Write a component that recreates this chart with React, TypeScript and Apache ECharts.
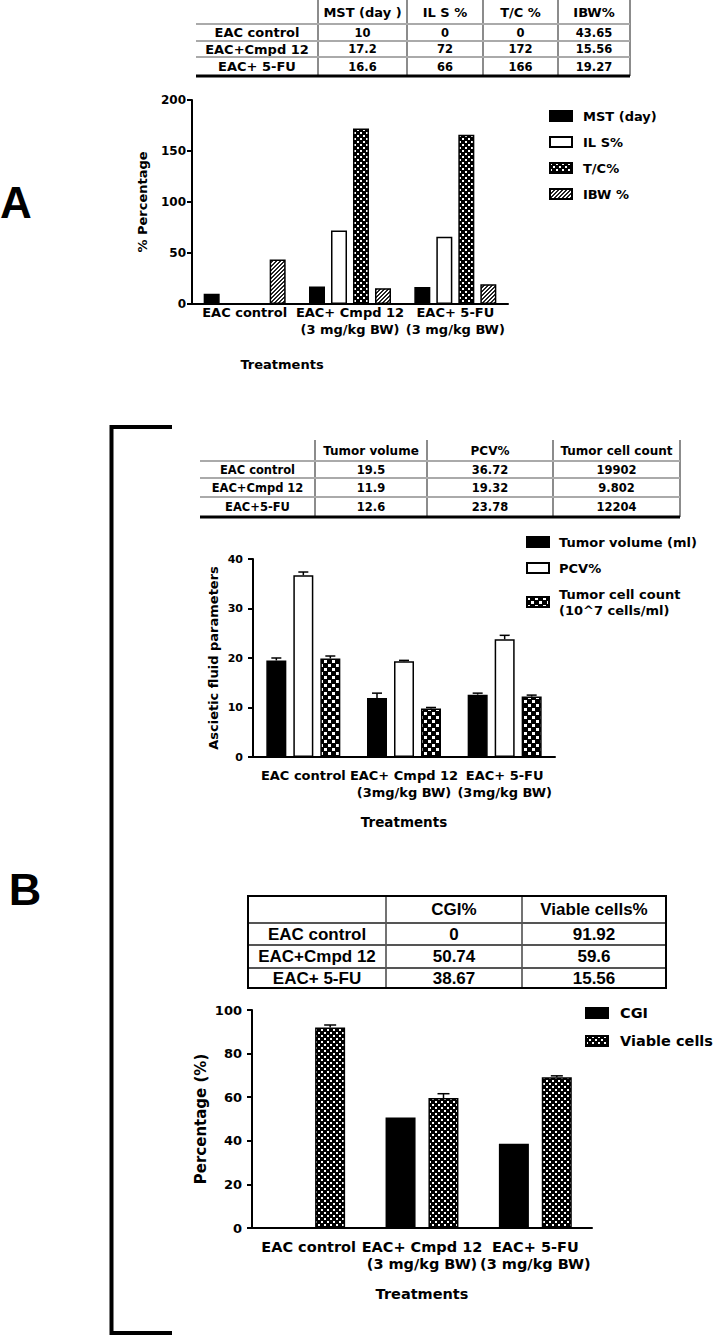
import React, { useEffect, useRef } from 'react';
import * as echarts from 'echarts';

// ---------- DATA ----------
const groupsA = ['EAC control', 'EAC+ Cmpd 12\n(3 mg/kg BW)', 'EAC+ 5-FU\n(3 mg/kg BW)'];
const mstDay = [10, 17.2, 16.6];
const ilsPct = [0, 72, 66];
const tcPct = [0, 172, 166];
const ibwPct = [43.65, 15.56, 19.27];

const groupsB1 = ['EAC control', 'EAC+ Cmpd 12\n(3mg/kg BW)', 'EAC+ 5-FU\n(3mg/kg BW)'];
const tumorVolume = [19.5, 11.9, 12.6];
const tumorVolumeErr = [0.5, 1.0, 0.3];
const pcvPct = [36.72, 19.32, 23.78];
const pcvErr = [0.65, 0.2, 0.8];
const cellCount = [19.902, 9.802, 12.204];
const cellCountErr = [0.5, 0.2, 0.3];

const groupsB2 = ['EAC control', 'EAC+ Cmpd 12\n(3 mg/kg BW)', 'EAC+ 5-FU\n(3 mg/kg BW)'];
const cgiPct = [0, 50.74, 38.67];
const viablePct = [91.92, 59.6, 69.2];
const viableErr = [1.2, 2.0, 0.6];

const tableRowLabels = ['EAC control', 'EAC+Cmpd 12', 'EAC+ 5-FU'];
const tableAHeader = ['MST (day )', 'IL S %', 'T/C %', 'IBW%'];
const tableAMst = ['10', '17.2', '16.6'];
const tableAIls = ['0', '72', '66'];
const tableATc = ['0', '172', '166'];
const tableAIbw = ['43.65', '15.56', '19.27'];

const tableB1Header = ['Tumor volume', 'PCV%', 'Tumor cell count'];
const tableB1Labels = ['EAC control', 'EAC+Cmpd 12', 'EAC+5-FU'];
const tableB1Vol = ['19.5', '11.9', '12.6'];
const tableB1Pcv = ['36.72', '19.32', '23.78'];
const tableB1Cells = ['19902', '9.802', '12204'];

const tableB2Header = ['CGI%', 'Viable cells%'];
const tableB2Cgi = ['0', '50.74', '38.67'];
const tableB2Viable = ['91.92', '59.6', '15.56'];

// ---------- STYLE ----------
const W = 717;
const H = 1338;
const DJ = 'DejaVu Sans';
const LIB = 'Liberation Sans';

function makePattern(size: number, draw: (ctx: CanvasRenderingContext2D) => void) {
  const c = document.createElement('canvas');
  c.width = size;
  c.height = size;
  const ctx = c.getContext('2d')!;
  draw(ctx);
  return { image: c, repeat: 'repeat' } as any;
}

function checker(size: number, sq: number, a: number, b: number) {
  return makePattern(size, (ctx) => {
    ctx.fillStyle = '#000';
    ctx.fillRect(0, 0, size, size);
    ctx.fillStyle = '#fff';
    ctx.fillRect(a, a, sq, sq);
    ctx.fillRect(b, b, sq, sq);
  });
}

function hatch() {
  return makePattern(4, (ctx) => {
    ctx.fillStyle = '#fff';
    ctx.fillRect(0, 0, 4, 4);
    ctx.fillStyle = '#222';
    for (let x = 0; x < 4; x++) {
      for (let y = 0; y < 4; y++) {
        if ((x + y) % 4 === 0 || (x + y) % 4 === 1) ctx.fillRect(x, y, 1, 1);
      }
    }
  });
}

function txt(text: string, x: number, y: number, font: string, align = 'center') {
  return {
    type: 'text',
    x,
    y,
    silent: true,
    style: { text, font, fill: '#000', align, verticalAlign: 'middle', textAlign: align, textVerticalAlign: 'middle' },
  };
}

function ln(x1: number, y1: number, x2: number, y2: number, stroke: string, lineWidth: number) {
  return { type: 'line', silent: true, shape: { x1, y1, x2, y2 }, style: { stroke, lineWidth } };
}

function buildTable(
  colX: number[],
  rowY: number[],
  header: string[],
  labels: string[],
  cols: string[][],
  fHead: string,
  fLabel: string,
  fVal: string,
  vColor: string,
  hColor: string,
  vLines: number[],
  topV: number,
) {
  const els: any[] = [];
  const cy = (r: number) => (rowY[r] + rowY[r + 1]) / 2;
  const cx = (c: number) => (colX[c] + colX[c + 1]) / 2;
  header.forEach((h, i) => els.push(txt(h, cx(i + 1), cy(0), fHead)));
  labels.forEach((l, r) => els.push(txt(l, cx(0), cy(r + 1), fLabel)));
  cols.forEach((col, c) => col.forEach((v, r) => els.push(txt(v, cx(c + 1), cy(r + 1), fVal))));
  vLines.forEach((x) => els.push(ln(x, topV, x, rowY[rowY.length - 1], vColor, 1.5)));
  for (let r = 1; r < rowY.length - 1; r++) els.push(ln(colX[0], rowY[r], colX[colX.length - 1], rowY[r], hColor, 2));
  return els;
}

function errorSeries(xi: number, means: number[], errs: number[], offset: number, cap: number) {
  return {
    type: 'custom',
    xAxisIndex: xi,
    yAxisIndex: xi,
    silent: true,
    z: 5,
    data: means.map((m, i) => [i, m, m + errs[i]]),
    encode: { x: 0, y: [1, 2] },
    renderItem: (params: any, api: any) => {
      const i = api.value(0);
      const base = api.coord([i, api.value(1)]);
      const top = api.coord([i, api.value(2)]);
      const x = base[0] + offset;
      return {
        type: 'group',
        children: [
          { type: 'line', shape: { x1: x, y1: base[1], x2: x, y2: top[1] }, style: { stroke: '#000', lineWidth: 1.5 } },
          { type: 'line', shape: { x1: x - cap, y1: top[1], x2: x + cap, y2: top[1] }, style: { stroke: '#000', lineWidth: 1.5 } },
        ],
      };
    },
  };
}

function xAxisCfg(gi: number, data: string[], fs: number, margin: number, lh: number, nameGap: number, nfs: number, shift = 0) {
  return {
    type: 'category',
    gridIndex: gi,
    data,
    axisLine: { lineStyle: { color: '#000', width: 2 } },
    axisTick: { alignWithLabel: true, length: 5, lineStyle: { color: '#000', width: 2 } },
    axisLabel: { interval: 0, color: '#000', fontFamily: DJ, fontWeight: 'bold', fontSize: fs, margin, lineHeight: lh },
    name: 'Treatments',
    nameLocation: 'middle',
    nameGap,
    nameTextStyle: {
      color: '#000',
      fontFamily: DJ,
      fontWeight: 'bold',
      fontSize: nfs,
      padding: shift > 0 ? [0, shift * 2, 0, 0] : 0,
    },
  };
}

function yAxisCfg(gi: number, max: number, interval: number, fs: number, margin: number, name: string, nameGap: number, nfs: number) {
  return {
    type: 'value',
    gridIndex: gi,
    min: 0,
    max,
    interval,
    splitLine: { show: false },
    axisLine: { show: true, lineStyle: { color: '#000', width: 2 } },
    axisTick: { show: true, length: 5, lineStyle: { color: '#000', width: 2 } },
    axisLabel: { color: '#000', fontFamily: DJ, fontWeight: 'bold', fontSize: fs, margin },
    name,
    nameLocation: 'middle',
    nameRotate: 90,
    nameGap,
    nameTextStyle: { color: '#000', fontFamily: DJ, fontWeight: 'bold', fontSize: nfs },
  };
}

function legendCfg(data: string[], left: number, top: number, fs: number, gap: number, lh: number, pad: number) {
  return {
    data,
    orient: 'vertical',
    left,
    top,
    padding: 0,
    itemWidth: 22,
    itemHeight: 10,
    itemGap: gap,
    icon: 'rect',
    selectedMode: false,
    textStyle: { color: '#000', fontFamily: DJ, fontWeight: 'bold', fontSize: fs, lineHeight: lh, padding: [0, 0, 0, pad] },
  };
}

export default function App() {
  const ref = useRef<HTMLDivElement>(null);

  useEffect(() => {
    const chart = echarts.init(ref.current!, null, { renderer: 'svg', width: W, height: H });

    const black = { color: '#000', borderColor: '#000', borderWidth: 1.5 };
    const white = { color: '#fff', borderColor: '#000', borderWidth: 1.5 };
    const tcFill = { color: checker(6, 2, 0, 3), borderColor: '#000', borderWidth: 1.5 };
    const ibwFill = { color: hatch(), borderColor: '#000', borderWidth: 1.5 };
    const cellFill = { color: checker(8, 3, 0, 4), borderColor: '#000', borderWidth: 1.5 };
    const viableFill = { color: checker(6, 2, 0, 3), borderColor: '#000', borderWidth: 1.5 };

    const barA = (name: string, data: number[], itemStyle: any) => ({
      type: 'bar', name, data, xAxisIndex: 0, yAxisIndex: 0, barWidth: 16, barGap: '37.5%', itemStyle,
    });
    const barB1 = (name: string, data: number[], itemStyle: any) => ({
      type: 'bar', name, data, xAxisIndex: 1, yAxisIndex: 1, barWidth: 20, barGap: '35%', itemStyle,
    });
    const barB2 = (name: string, data: number[], itemStyle: any) => ({
      type: 'bar', name, data, xAxisIndex: 2, yAxisIndex: 2, barWidth: 30, barGap: '43%', itemStyle,
    });

    const cellName = 'Tumor cell count\n(10^7 cells/ml)';

    const graphics: any[] = [];
    // Table A
    graphics.push(
      ...buildTable(
        [196, 318, 407, 483, 558, 630],
        [0, 24, 41, 57, 76],
        tableAHeader,
        tableRowLabels,
        [tableAMst, tableAIls, tableATc, tableAIbw],
        `bold 13px "${DJ}"`,
        `bold 13px "${DJ}"`,
        `bold 11.5px "${DJ}"`,
        '#666',
        '#aaa',
        [318, 407, 483, 558, 630],
        0,
      ),
    );
    graphics.push(ln(196, 76, 630, 76, '#000', 3));
    // Table B1
    graphics.push(
      ...buildTable(
        [200, 315, 427, 553, 680],
        [440, 461, 478, 497, 517],
        tableB1Header,
        tableB1Labels,
        [tableB1Vol, tableB1Pcv, tableB1Cells],
        `bold 12px "${DJ}"`,
        `bold 11.5px "${DJ}"`,
        `bold 11.5px "${DJ}"`,
        '#666',
        '#aaa',
        [315, 427, 553, 680],
        440,
      ),
    );
    graphics.push(ln(200, 517, 680, 517, '#000', 3));
    // Table B2
    graphics.push(
      ...buildTable(
        [248, 386, 522, 666],
        [896, 923, 945, 968, 988],
        tableB2Header,
        tableRowLabels,
        [tableB2Cgi, tableB2Viable],
        `bold 17px "${LIB}"`,
        `bold 17px "${LIB}"`,
        `bold 17px "${LIB}"`,
        '#444',
        '#555',
        [386, 522],
        896,
      ),
    );
    graphics.push({
      type: 'rect',
      silent: true,
      shape: { x: 248, y: 896, width: 418, height: 92 },
      style: { fill: 'none', stroke: '#000', lineWidth: 2 },
    });
    // Panel letters and bracket
    graphics.push(txt('A', 16, 202, `bold 44px "${LIB}"`));
    graphics.push(txt('B', 25, 889, `bold 45px "${LIB}"`));
    graphics.push({
      type: 'polyline',
      silent: true,
      shape: { points: [[172, 427], [111.5, 427], [111.5, 1333], [172, 1333]] },
      style: { fill: 'none', stroke: '#000', lineWidth: 4 },
    });

    const option: any = {
      animation: false,
      backgroundColor: '#fff',
      grid: [
        { left: 192, top: 100, width: 316, height: 204 },
        { left: 253, top: 559, width: 302, height: 198 },
        { left: 252, top: 1010, width: 340, height: 218 },
      ],
      xAxis: [
        xAxisCfg(0, groupsA, 13, 0, 17, 54, 13, 68),
        xAxisCfg(1, groupsB1, 13, 9.5, 17, 58, 13.5),
        xAxisCfg(2, groupsB2, 14.5, 10.5, 17, 58, 14.5),
      ],
      yAxis: [
        yAxisCfg(0, 200, 50, 12, 6, '% Percentage', 43, 13),
        yAxisCfg(1, 40, 10, 11, 10, 'Ascietic fluid parameters', 33, 13),
        yAxisCfg(2, 100, 20, 13, 10, 'Percentage (%)', 44, 15),
      ],
      legend: [
        legendCfg(['MST (day)', 'IL S%', 'T/C%', 'IBW %'], 549, 108, 13, 10, 16, 6),
        legendCfg(['Tumor volume (ml)', 'PCV%', cellName], 526, 534, 13, 10, 16, 5),
        legendCfg(['CGI', 'Viable cells'], 585, 1004, 14.5, 10, 18, 7),
      ],
      series: [
        barA('MST (day)', mstDay, black),
        barA('IL S%', ilsPct, white),
        barA('T/C%', tcPct, tcFill),
        barA('IBW %', ibwPct, ibwFill),
        barB1('Tumor volume (ml)', tumorVolume, black),
        barB1('PCV%', pcvPct, white),
        barB1(cellName, cellCount, cellFill),
        barB2('CGI', cgiPct, black),
        barB2('Viable cells', viablePct, viableFill),
        errorSeries(1, tumorVolume, tumorVolumeErr, -27, 5),
        errorSeries(1, pcvPct, pcvErr, 0, 5),
        errorSeries(1, cellCount, cellCountErr, 27, 5),
        errorSeries(2, viablePct, viableErr, 21.5, 6),
      ],
      graphic: { elements: graphics },
    };

    chart.setOption(option);
    return () => chart.dispose();
  }, []);

  return (
    <div
      ref={ref}
      style={{ position: 'absolute', left: 0, top: 0, width: W, height: H, background: '#fff' }}
    />
  );
}
